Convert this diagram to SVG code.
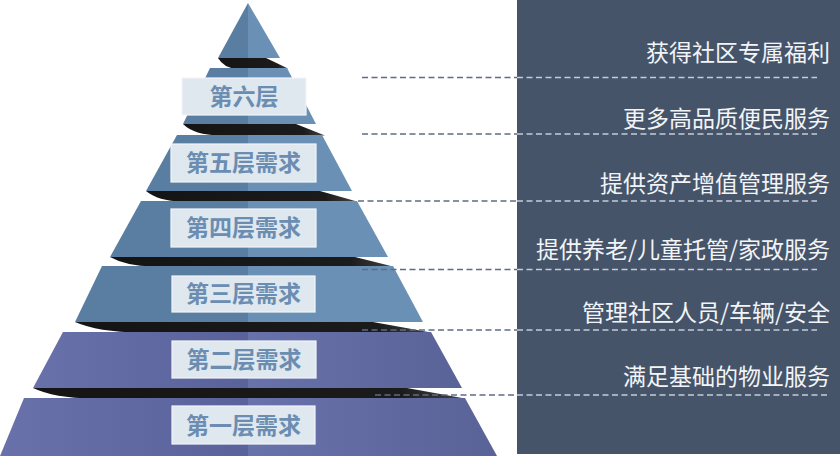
<svg xmlns="http://www.w3.org/2000/svg" width="840" height="457" viewBox="0 0 840 457">
  <defs>
    <linearGradient id="shd" x1="0" y1="0" x2="1" y2="0">
      <stop offset="0" stop-color="#141414"/>
      <stop offset="0.85" stop-color="#1b1b1b"/>
      <stop offset="1" stop-color="#444444"/>
    </linearGradient>
    <linearGradient id="pl" x1="0" y1="0" x2="1" y2="0">
      <stop offset="0" stop-color="#6871a9"/>
      <stop offset="1" stop-color="#59629a"/>
    </linearGradient>
    <linearGradient id="pr" x1="0" y1="0" x2="1" y2="0">
      <stop offset="0" stop-color="#6872ab"/>
      <stop offset="1" stop-color="#5a6397"/>
    </linearGradient>
  </defs>
  <style>
    .sl { fill: #5a7ea1; }
    .sr { fill: #6a91b5; }
    .pl { fill: url(#pl); }
    .pr { fill: url(#pr); }
    .shadow { fill: url(#shd); }
    .box { fill: #dfe7ef; stroke: #f3f6f9; stroke-width: 1.2; }
    .lbl { font-family: "Noto Sans CJK SC", "Noto Sans", sans-serif; font-weight: bold; font-size: 23px; fill: #6a8db1; text-anchor: middle; }
    .txt { font-family: "Noto Sans CJK SC", "Noto Sans", sans-serif; font-size: 23px; fill: #f2f4f7; text-anchor: end; }
    .dOut { stroke: #5d6e84; stroke-width: 1.3; stroke-dasharray: 6 3.5; fill: none; }
    .dIn { stroke: #c3ccd8; stroke-width: 1.3; stroke-dasharray: 6 3.5; fill: none; }
  </style>

  <rect x="0" y="0" width="840" height="457" fill="#ffffff"/>

  <g id="panel">
    <rect x="517" y="0" width="323" height="454" fill="#46546a"/>
  </g>

  <g id="shadows">
    <path class="shadow" d="M218,58 L266,58 L288,68.5 L236,68.5 Q224,68 218,58 Z"/>
    <path class="shadow" d="M183,124 L296,124 L325,135.5 L220,135.5 Q194,135 183,124 Z"/>
    <path class="shadow" d="M146,191 L320,191 L357,201.5 L182,201.5 Q158,201 146,191 Z"/>
    <path class="shadow" d="M110,257 L355,257 L393,266.5 L153,266.5 Q126,266 110,257 Z"/>
    <path class="shadow" d="M75,322 L373,322 L431,332.5 L140,332.5 Q98,332 75,322 Z"/>
    <path class="shadow" d="M33,388 L407,388 L465,398.5 L93,398.5 Q54,398 33,388 Z"/>
  </g>

  <g id="tier7">
    <polygon class="sl" points="248,3 248,58 218,58"/>
    <polygon class="sr" points="248,3 280,58 248,58"/>
  </g>

  <g id="tier6">
    <polygon class="sl" points="210,68 248,68 248,124 183,124"/>
    <polygon class="sr" points="248,68 287,68 316,124 248,124"/>
    <rect class="box" x="182" y="78" width="124" height="37"/>
    <text class="lbl" x="244" y="105">第六层</text>
  </g>

  <g id="tier5">
    <polygon class="sl" points="177,135 248,135 248,191 146,191"/>
    <polygon class="sr" points="248,135 322,135 352,191 248,191"/>
    <rect class="box" x="171" y="144" width="145" height="38"/>
    <text class="lbl" x="243.5" y="171">第五层需求</text>
  </g>

  <g id="tier4">
    <polygon class="sl" points="141,201 248,201 248,257 110,257"/>
    <polygon class="sr" points="248,201 357,201 388,257 248,257"/>
    <rect class="box" x="171" y="209" width="145" height="38"/>
    <text class="lbl" x="243.5" y="236">第四层需求</text>
  </g>

  <g id="tier3">
    <polygon class="sl" points="102,266 248,266 248,322 75,322"/>
    <polygon class="sr" points="248,266 393,266 423,322 248,322"/>
    <rect class="box" x="172" y="276" width="143" height="36"/>
    <text class="lbl" x="243.5" y="302">第三层需求</text>
  </g>

  <g id="tier2">
    <polygon class="pl" points="63,332 248,332 248,388 33,388"/>
    <polygon class="pr" points="248,332 431,332 462,388 248,388"/>
    <rect class="box" x="172" y="341" width="144" height="37"/>
    <text class="lbl" x="244" y="368">第二层需求</text>
  </g>

  <g id="tier1">
    <polygon class="pl" points="24,398 248,398 248,456 0,456"/>
    <polygon class="pr" points="248,398 465,398 497,456 248,456"/>
    <rect class="box" x="172" y="406" width="143" height="38"/>
    <text class="lbl" x="243.5" y="433.5">第一层需求</text>
  </g>

  <g id="connectors">
    <line class="dOut" x1="362" y1="77.5" x2="517" y2="77.5"/>
    <line class="dIn" x1="517" y1="77.5" x2="817" y2="77.5"/>
    <line class="dOut" x1="362" y1="134" x2="517" y2="134"/>
    <line class="dIn" x1="517" y1="134" x2="817" y2="134"/>
    <line class="dOut" x1="358" y1="201" x2="517" y2="201"/>
    <line class="dIn" x1="517" y1="201" x2="817" y2="201"/>
    <line class="dOut" x1="362" y1="269.5" x2="517" y2="269.5"/>
    <line class="dIn" x1="517" y1="269.5" x2="817" y2="269.5"/>
    <line class="dOut" x1="362" y1="330" x2="517" y2="330"/>
    <line class="dIn" x1="517" y1="330" x2="817" y2="330"/>
    <line class="dOut" x1="375" y1="395" x2="517" y2="395"/>
    <line class="dIn" x1="517" y1="395" x2="830" y2="395"/>
  </g>

  <g id="panel-texts">
    <text class="txt" x="830" y="61">获得社区专属福利</text>
    <text class="txt" x="830" y="127">更多高品质便民服务</text>
    <text class="txt" x="830" y="191.5">提供资产增值管理服务</text>
    <text class="txt" x="830" y="257.5">提供养老/儿童托管/家政服务</text>
    <text class="txt" x="830" y="320.5">管理社区人员/车辆/安全</text>
    <text class="txt" x="830" y="384.5">满足基础的物业服务</text>
  </g>
</svg>
